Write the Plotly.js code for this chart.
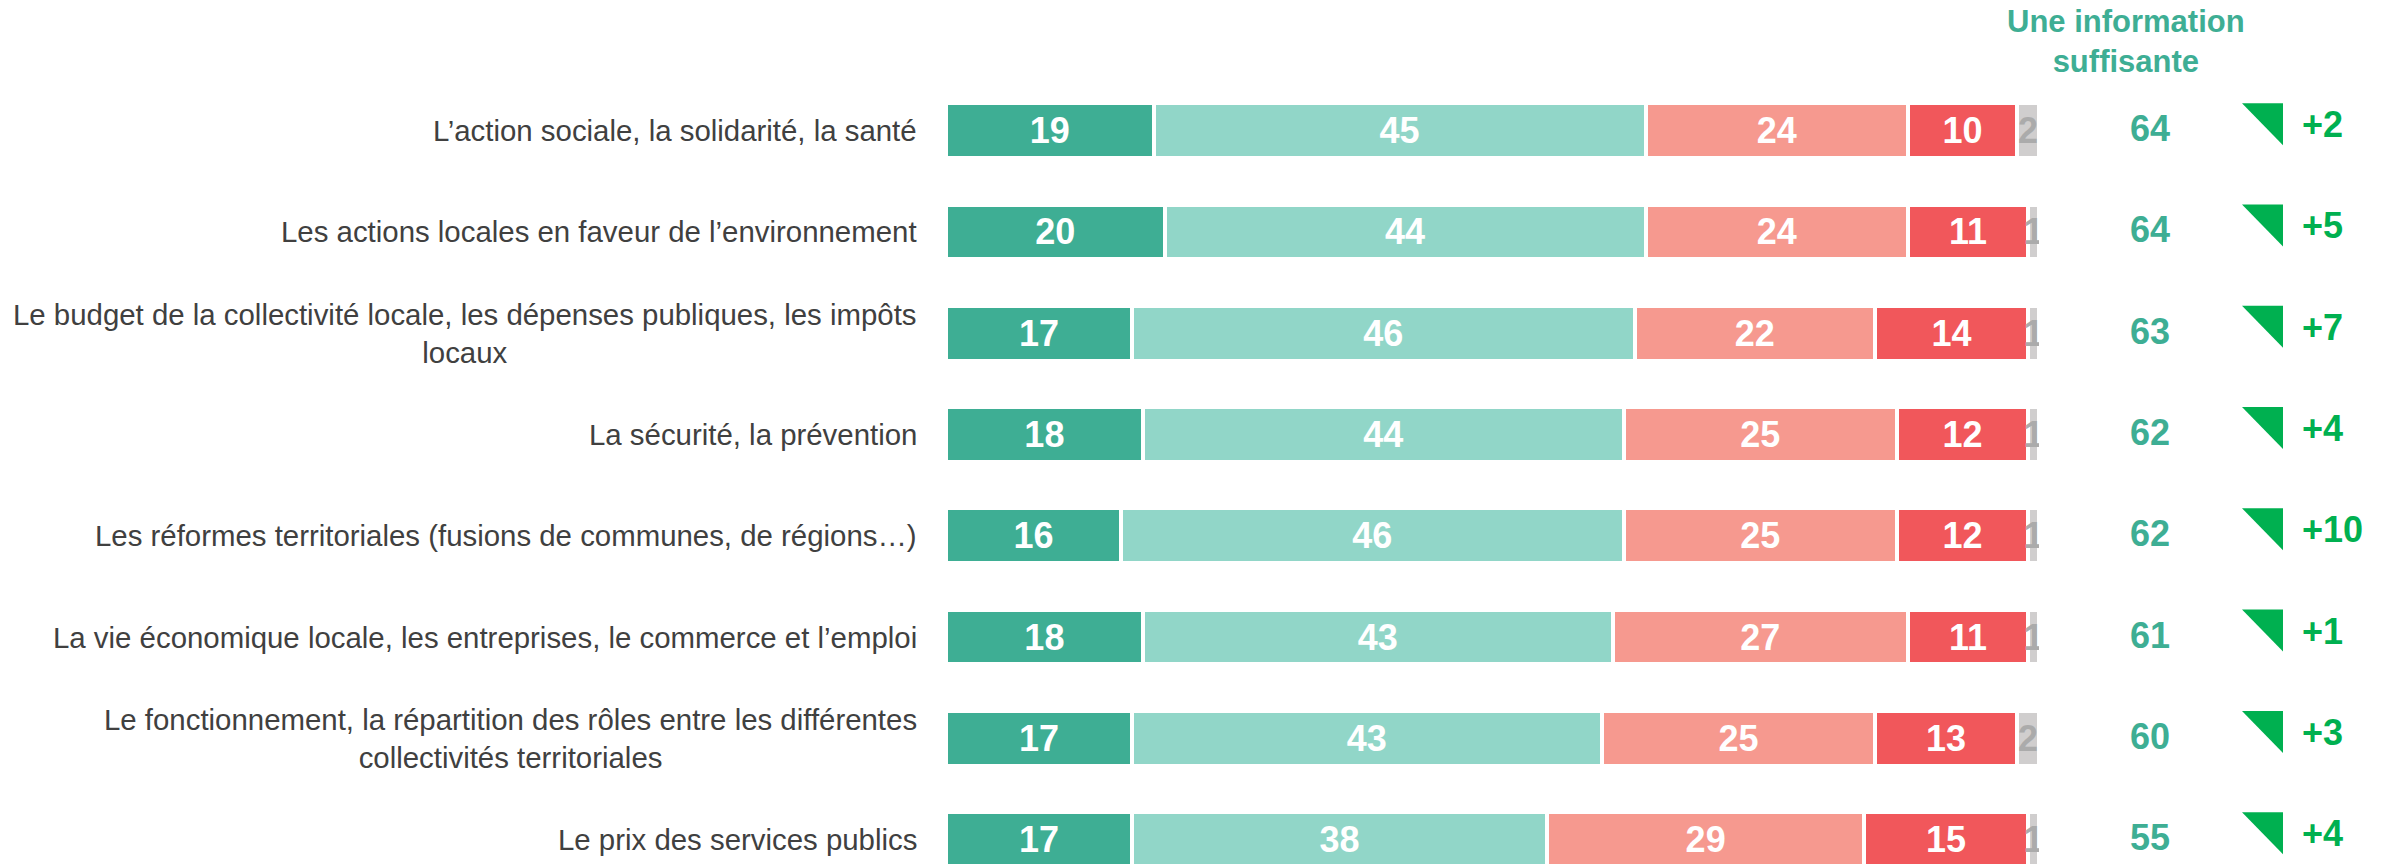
<!DOCTYPE html>
<html><head><meta charset="utf-8">
<script src="https://cdn.plot.ly/plotly-3.0.1.min.js"></script>
<style>html,body{margin:0;padding:0;background:#fff}#chart{width:2392px;height:864px}</style>
</head><body><div id="chart"></div>
<script>
const categories = [
  "L’action sociale, la solidarité, la santé",
  "Les actions locales en faveur de l’environnement",
  "Le budget de la collectivité locale, les dépenses publiques, les impôts<br>locaux",
  "La sécurité, la prévention",
  "Les réformes territoriales (fusions de communes, de régions…)",
  "La vie économique locale, les entreprises, le commerce et l’emploi",
  "Le fonctionnement, la répartition des rôles entre les différentes<br>collectivités territoriales",
  "Le prix des services publics"
];
const seriesNames = ["Très bien informé", "Plutôt bien informé", "Plutôt mal informé", "Très mal informé", "Ne se prononce pas"];
const tresBien   = [19, 20, 17, 18, 16, 18, 17, 17];
const plutotBien = [45, 44, 46, 44, 46, 43, 43, 38];
const plutotMal  = [24, 24, 22, 25, 25, 27, 25, 29];
const tresMal    = [10, 11, 14, 12, 12, 11, 13, 15];
const nsp        = [2, 1, 1, 1, 1, 1, 2, 1];
const infoSuffisante = [64, 64, 63, 62, 62, 61, 60, 55];
const evolution = [2, 5, 7, 4, 10, 1, 3, 4];
const headerText = "Une information<br>suffisante";

const FONT = "Liberation Sans, Arial, Helvetica, sans-serif";
const seriesColors = ["#3EAE94", "#91D6C8", "#F6998F", "#F1575B", "#D0CECE"];
const seriesTextColors = ["#FFFFFF", "#FFFFFF", "#FFFFFF", "#FFFFFF", "#ABABAB"];
const TEAL = "#3EAE94";
const GREEN = "#00B050";

const W = 2392, H = 864;
const ML = 946, MT = 80;
const barAreaW = 1093;
const plotW = W - ML;
const xDomEnd = barAreaW / plotW;
const x2Span = plotW - barAreaW;

const idx = categories.map((c, i) => i);
const series = [tresBien, plutotBien, plutotMal, tresMal, nsp];

const traces = series.map((vals, s) => ({
  type: "bar",
  orientation: "h",
  name: seriesNames[s],
  x: vals,
  y: idx,
  xaxis: "x",
  yaxis: "y",
  marker: { color: seriesColors[s], line: { color: "#FFFFFF", width: 4 } },
  text: vals.map(v => String(v)),
  textposition: "inside",
  insidetextanchor: "middle",
  textangle: 0,
  constraintext: "none",
  cliponaxis: true,
  textfont: { family: FONT, size: 36, color: seriesTextColors[s], weight: "bold" },
  hoverinfo: "skip",
  showlegend: false
}));

// invisible trace so the right-hand subplot (x2, y) exists
traces.push({
  type: "scatter", mode: "markers",
  x: idx.map(() => 0), y: idx, xaxis: "x2", yaxis: "y",
  marker: { opacity: 0 }, hoverinfo: "skip", showlegend: false
});

const annotations = [];
const shapes = [];
categories.forEach((c, i) => {
  annotations.push({
    xref: "paper", x: 0, xanchor: "right", xshift: -27,
    yref: "y", y: i, yanchor: "middle",
    text: c, align: "center", showarrow: false,
    font: { family: FONT, size: 29.4, color: "#404040" }
  });
  annotations.push({
    xref: "x2", x: 111, xanchor: "center",
    yref: "y", y: i, yanchor: "middle", yshift: 2,
    text: String(infoSuffisante[i]), showarrow: false,
    font: { family: FONT, size: 36, color: TEAL, weight: "bold" }
  });
  annotations.push({
    xref: "x2", x: 263, xanchor: "left", xshift: -2,
    yref: "y", y: i, yanchor: "middle", yshift: 6,
    text: (evolution[i] >= 0 ? "+" : "") + evolution[i], showarrow: false,
    font: { family: FONT, size: 36, color: GREEN, weight: "bold" }
  });
  // upward-evolution marker (right triangle)
  shapes.push({
    type: "path",
    xref: "x2", xsizemode: "pixel", xanchor: 244,
    yref: "y", ysizemode: "pixel", yanchor: i,
    path: "M-41,27.5 H0 V-14.5 Z",
    fillcolor: GREEN, line: { width: 0 }
  });
});
annotations.push({
  xref: "x2", x: 87, xanchor: "center",
  yref: "paper", y: 1, yanchor: "middle", yshift: 39,
  text: headerText, align: "center", showarrow: false,
  font: { family: FONT, size: 31, color: TEAL, weight: "bold" }
});

const layout = {
  width: W, height: H,
  margin: { l: ML, r: 0, t: MT, b: 0, pad: 0 },
  paper_bgcolor: "#FFFFFF",
  plot_bgcolor: "rgba(0,0,0,0)",
  barmode: "stack",
  bargap: 0.46,
  showlegend: false,
  xaxis: { domain: [0, xDomEnd], range: [0, 100], visible: false, fixedrange: true },
  xaxis2: { domain: [xDomEnd, 1], range: [0, x2Span], visible: false, anchor: "y", fixedrange: true },
  yaxis: { range: [7.24, -0.5], visible: false, fixedrange: true, showgrid: false, zeroline: false },
  annotations: annotations,
  shapes: shapes,
  font: { family: FONT }
};

Plotly.newPlot("chart", traces, layout, { displayModeBar: false, staticPlot: true });
</script>
</body></html>
